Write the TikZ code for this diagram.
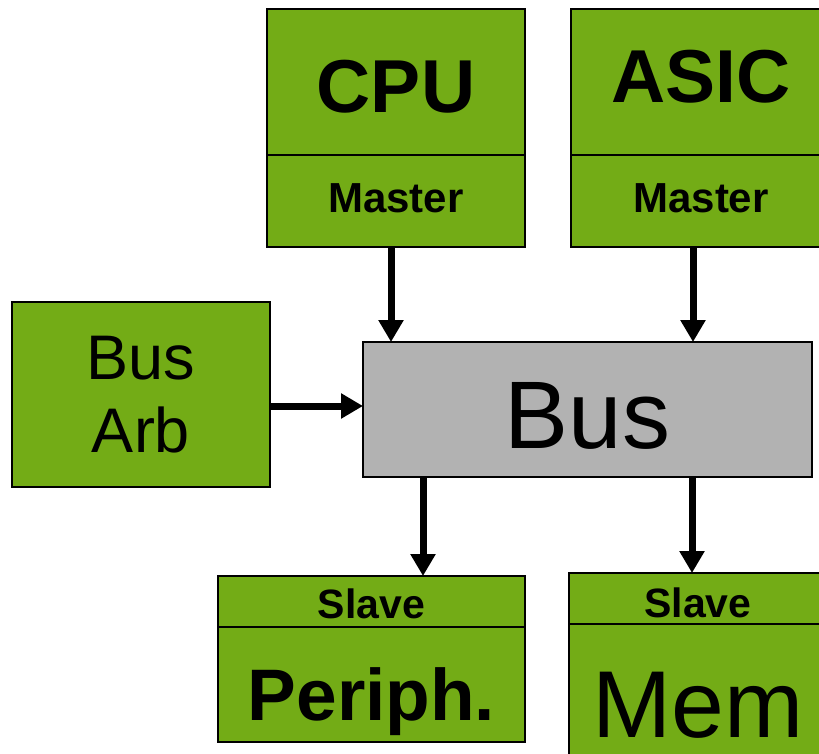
\documentclass[tikz,border=0pt]{standalone}
\usepackage{fontspec}
\setmainfont{Liberation Sans}
\usetikzlibrary{arrows.meta, positioning}
\definecolor{blockgreen}{RGB}{115,172,22}
\definecolor{busgray}{RGB}{178,178,178}

\begin{document}
\begin{tikzpicture}[
		x=1pt, y=-1pt,
		every node/.style={inner sep=0pt, outer sep=0pt, text depth=0pt},
		block/.style={draw, line width=2pt, fill=blockgreen, minimum width=258pt},
		unit/.style={block, minimum height=146pt, font=\fontsize{75}{90}\selectfont\bfseries},
		role/.style={block, minimum height=92pt, text height=22pt, font=\fontsize{42}{50}\selectfont\bfseries},
		slave/.style={block, minimum height=51pt, font=\fontsize{41}{50}\selectfont\bfseries},
		link/.style={line width=7pt, -{Triangle[length=22pt, width=24pt]}}
		]
		\useasboundingbox (0,0) rectangle (819,754);
		\clip (0,0) rectangle (819,754);
		% Masters on top
		\node[unit, text height=62pt] at (396,82) (cpu) {CPU};
		\node[role, below = 0pt of cpu] (cpumaster) {Master};
		\node[unit, text height=42pt, minimum width=260pt] at (701,82) (asic) {ASIC};
		\node[role, below = 0pt of asic, minimum width=260pt] (asicmaster) {Master};
		% Bus and its arbiter
		\node[draw, line width=2pt, fill=busgray, minimum width=449pt, minimum height=135pt,
			text height=77pt, font=\fontsize{96}{110}\selectfont] at (587.5,409.5) (bus) {Bus};
		\node[block, minimum height=185pt, align=center, text depth=,
			font=\fontsize{63}{73}\selectfont] at (141,394.5) (busarb) {Bus\\Arb};
		% Slaves below
		\node[slave, text height=33pt, minimum width=307pt] at (371.5,601.5) (periphslave) {Slave};
		\node[block, below = 0pt of periphslave, minimum width=307pt, minimum height=115pt,
			text height=71pt, font=\fontsize{73}{88}\selectfont\bfseries] (periph) {Periph.};
		\node[slave, text height=37pt] at (698,598.5) (memslave) {Slave};
		\node[block, below = 0pt of memslave, minimum height=156pt,
			text height=70pt, font=\fontsize{95}{110}\selectfont] (mem) {Mem};

		% Draw the bus connections
		\draw[link] ([xshift=-5pt]cpumaster.south) -- ([xshift=-5pt]cpumaster.south |- bus.north);
		\draw[link] ([xshift=-8pt]asicmaster.south) -- ([xshift=-8pt]asicmaster.south |- bus.north);
		\draw[link] ([yshift=-11.5pt]busarb.east) -- ([yshift=-11.5pt]busarb.east -| bus.west);
		\draw[link] ([xshift=51.5pt]periphslave.north |- bus.south) -- ([xshift=51.5pt]periphslave.north);
		\draw[link] ([xshift=-6pt]memslave.north |- bus.south) -- ([xshift=-6pt]memslave.north);
	\end{tikzpicture}
\end{document}
